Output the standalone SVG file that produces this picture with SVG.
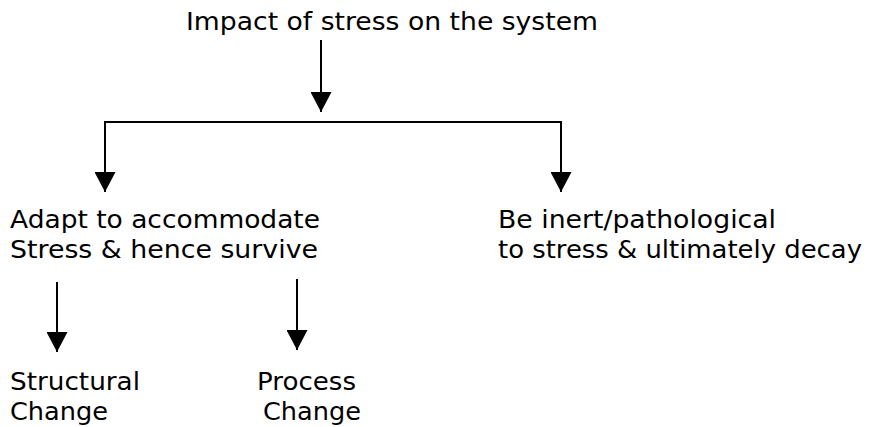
<svg xmlns="http://www.w3.org/2000/svg" width="874" height="427" viewBox="0 0 874 427">
  <style>
    .t { font-family: "DejaVu Sans", Verdana, sans-serif; fill: #000; font-size: 24px; }
    .ln { stroke: #000; stroke-width: 2; fill: none; }
  </style>
  <defs>
    <marker id="ah" markerUnits="userSpaceOnUse" markerWidth="22" markerHeight="21" refX="21" refY="11" orient="auto" viewBox="0 0 21 22">
      <path d="M0,0 L21,11 L0,22 Z" fill="#000"/>
    </marker>
  </defs>
  <rect width="874" height="427" fill="#fff"/>

  <g id="n-impact">
    <text class="t" x="186" y="30" textLength="412" lengthAdjust="spacingAndGlyphs">Impact of stress on the system</text>
  </g>
  <g id="n-adapt">
    <text class="t" x="10" y="228" textLength="310" lengthAdjust="spacingAndGlyphs">Adapt to accommodate</text>
    <text class="t" x="10" y="258" textLength="308" lengthAdjust="spacingAndGlyphs">Stress &amp; hence survive</text>
  </g>
  <g id="n-inert">
    <text class="t" x="498" y="228" textLength="278" lengthAdjust="spacingAndGlyphs">Be inert/pathological</text>
    <text class="t" x="498" y="258" textLength="364" lengthAdjust="spacingAndGlyphs">to stress &amp; ultimately decay</text>
  </g>
  <g id="n-structural">
    <text class="t" x="10" y="390" textLength="130" lengthAdjust="spacingAndGlyphs">Structural</text>
    <text class="t" x="10" y="420" textLength="98" lengthAdjust="spacingAndGlyphs">Change</text>
  </g>
  <g id="n-process">
    <text class="t" x="257" y="390" textLength="99" lengthAdjust="spacingAndGlyphs">Process</text>
    <text class="t" x="263" y="420" textLength="98" lengthAdjust="spacingAndGlyphs">Change</text>
  </g>

  <g id="connectors">
    <line class="ln" x1="321" y1="40" x2="321" y2="112" marker-end="url(#ah)"/>
    <line class="ln" x1="104" y1="122" x2="562" y2="122"/>
    <line class="ln" x1="105" y1="122" x2="105" y2="192" marker-end="url(#ah)"/>
    <line class="ln" x1="561" y1="122" x2="561" y2="192" marker-end="url(#ah)"/>
    <line class="ln" x1="57" y1="282" x2="57" y2="352" marker-end="url(#ah)"/>
    <line class="ln" x1="297" y1="279" x2="297" y2="350" marker-end="url(#ah)"/>
  </g>
</svg>
